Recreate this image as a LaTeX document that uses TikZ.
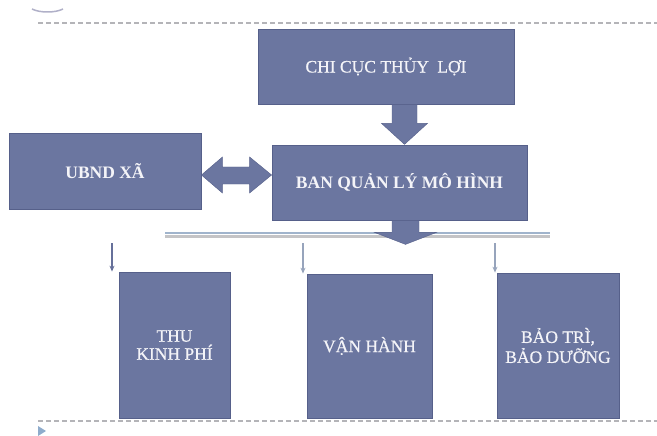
\documentclass[tikz,border=0pt]{standalone}
\usepackage{fontspec}
\setmainfont{Liberation Serif}
\newfontfamily\semifont[FakeBold=0.6]{Liberation Serif}
\usetikzlibrary{calc,arrows.meta}
\definecolor{boxcol}{HTML}{6B76A0}
\definecolor{boxedge}{HTML}{56608A}
\definecolor{txtcol}{HTML}{F4F4F8}
\definecolor{dashcol}{HTML}{B4B4B8}
\definecolor{thinarr}{HTML}{66709A}
\definecolor{thinarrlt}{HTML}{97A4BC}
\begin{document}
\begin{tikzpicture}[x=1pt,y=-1pt,
  box/.style={draw=boxedge, fill=boxcol, line width=0.8pt, text=txtcol,
    align=center, inner sep=0pt, font=\fontsize{17.5}{18}\semifont},
  boldbox/.style={box, font=\fontsize{17.5}{18}\selectfont\bfseries},
  blockarrow/.style={fill=boxcol, draw=boxedge, line width=0.4pt},
  thin/.style={line width=1.2pt, -{Stealth[length=6pt,width=5pt]}},
  sep/.style={dashcol, line width=1.2pt, dash pattern=on 5pt off 3pt}]
\useasboundingbox (0,0) rectangle (657,436);
% decorative top arc and bottom triangle
\draw[color={rgb,255:red,176;green,176;blue,200}, line width=1.5pt] (32,9) .. controls (40,13) and (55,13) .. (63,9);
\fill[color={rgb,255:red,143;green,172;blue,204}] (38,426) -- (46,431) -- (38,436) -- cycle;
% separators
\coordinate (tl) at (38,23);
\coordinate (tr) at (657,23);
\coordinate (bl) at (38,421);
\coordinate (br) at (657,421);
\draw[sep] (tl) -- (tr);
\draw[sep] (bl) -- (br);
% boxes
\node[box, minimum width=256pt, minimum height=75pt] (chi) at (386,66.5) {\raisebox{-4pt}{CHI CỤC THỦY\hspace{4pt} LỢI}};
\node[boldbox, minimum width=192pt, minimum height=76pt] (ubnd) at (105,171) {UBND XÃ};
\node[boldbox, minimum width=255pt, minimum height=75pt] (ban) at (399.5,182.5) {\raisebox{-2pt}{BAN QUẢN LÝ MÔ HÌNH}};
\node[box, minimum width=111pt, minimum height=146pt] (thu) at (174.5,345) {THU\\KINH PHÍ};
\node[box, minimum width=125pt, minimum height=144pt] (van) at (369.5,346) {VẬN HÀNH};
\node[box, minimum width=122pt, minimum height=145pt] (bao) at (558,345.5) {BẢO TRÌ,\\[2pt]BẢO DƯỠNG};
% block arrow chi -> ban
\coordinate (c1) at ($(chi.south)+(18.5,0)$);
\draw[blockarrow] ($(c1)+(-12.5,0)$) -- ($(c1)+(12.5,0)$) -- ($(c1)+(12.5,19)$) -- ($(c1)+(23,19)$)
  -- ($(c1)+(0,40)$) -- ($(c1)+(-23,19)$) -- ($(c1)+(-12.5,19)$) -- cycle;
% double arrow ubnd <-> ban
\coordinate (dl) at (ubnd.east |- 0,175);
\coordinate (dr) at (ban.west |- 0,175);
\draw[blockarrow] (dl) -- ($(dl)+(21,-18)$) -- ($(dl)+(21,-8)$) -- ($(dr)+(-22,-8)$) -- ($(dr)+(-22,-18)$)
  -- (dr) -- ($(dr)+(-22,18)$) -- ($(dr)+(-22,9)$) -- ($(dl)+(21,9)$) -- ($(dl)+(21,18)$) -- cycle;
% horizontal distribution bar
\coordinate (hl) at (165,233);
\coordinate (hr) at (550,233);
\draw[color={rgb,255:red,196;green,196;blue,198}, line width=2.6pt] ($(hl)+(0,3.6)$) -- ($(hr)+(0,3.6)$);
\draw[color={rgb,255:red,160;green,180;blue,204}, line width=1.4pt] (hl) -- (hr);
% block arrow ban -> bar
\coordinate (b1) at ($(ban.south)+(6,0)$);
\draw[blockarrow] ($(b1)+(-13.5,0)$) -- ($(b1)+(13.5,0)$) -- ($(b1)+(13.5,12)$) -- ($(b1)+(31,12)$)
  -- ($(b1)+(0,24)$) -- ($(b1)+(-31,12)$) -- ($(b1)+(-13.5,12)$) -- cycle;
% thin arrows to the three task boxes
\coordinate (a1) at (112,243);
\coordinate (a2) at (303,243);
\coordinate (a3) at (495,243);
\draw[thin, thinarr] (a1) -- (a1 |- thu.north);
\draw[thin, thinarrlt] (a2) -- (a2 |- van.north);
\draw[thin, thinarrlt] (a3) -- (a3 |- bao.north);
\end{tikzpicture}
\end{document}
